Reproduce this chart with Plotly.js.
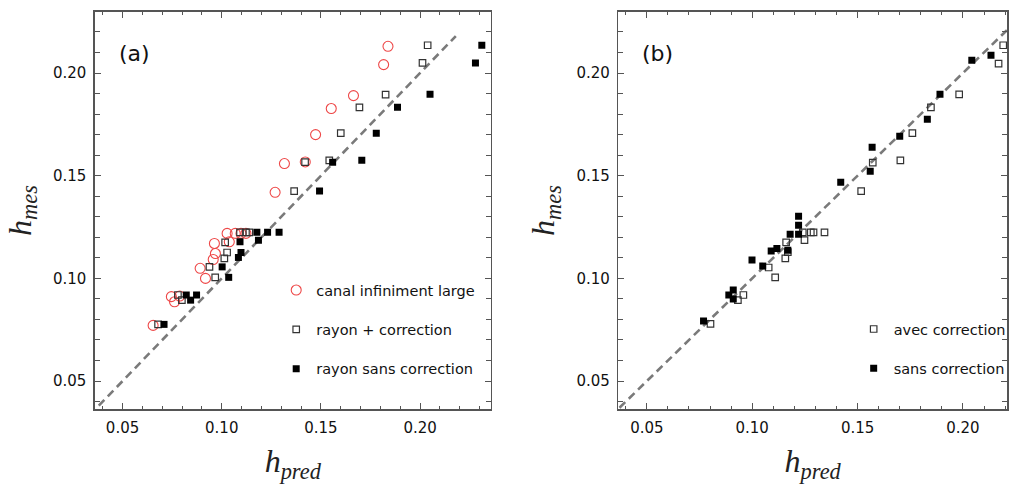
<!DOCTYPE html>
<html>
<head>
<meta charset="utf-8">
<script src="https://cdn.plot.ly/plotly-3.0.1.min.js"></script>
<style>html,body{margin:0;padding:0;background:#fff;}#chart{width:1012px;height:492px;}</style>
</head>
<body>
<div id="chart"></div>
<script>
// ---- data ----
const labelCanal = "canal infiniment large";
const labelRayonCorr = "rayon + correction";
const labelRayonSans = "rayon sans correction";
const labelAvec = "avec correction";
const labelSans = "sans correction";

// panel (a)
const xCanal = [0.1838, 0.1816, 0.1664, 0.1552, 0.1473, 0.1421, 0.1316, 0.1269, 0.0654, 0.0746, 0.0762, 0.0788, 0.0891, 0.0918, 0.0957, 0.0968, 0.0963, 0.1027, 0.1038, 0.1068, 0.1097, 0.1122];
const yCanal = [0.2130, 0.2041, 0.1890, 0.1827, 0.1700, 0.1567, 0.1559, 0.1419, 0.0771, 0.0911, 0.0886, 0.0914, 0.1049, 0.1000, 0.1092, 0.1121, 0.1170, 0.1219, 0.1178, 0.1219, 0.1219, 0.1219];

const xRayonCorr = [0.2038, 0.2012, 0.1826, 0.1694, 0.1600, 0.1542, 0.1420, 0.1365, 0.0679, 0.0779, 0.0799, 0.0938, 0.0967, 0.1013, 0.1027, 0.1017, 0.1092, 0.1122, 0.1139];
const yRayonCorr = [0.2135, 0.2049, 0.1895, 0.1833, 0.1707, 0.1575, 0.1566, 0.1425, 0.0776, 0.0919, 0.0894, 0.1056, 0.1005, 0.1097, 0.1126, 0.1175, 0.1224, 0.1224, 0.1224];

const xRayonSans = [0.2311, 0.2279, 0.2050, 0.1886, 0.1779, 0.1706, 0.1559, 0.1493, 0.0709, 0.0821, 0.0843, 0.0873, 0.1002, 0.1035, 0.1084, 0.1097, 0.1092, 0.1185, 0.1177, 0.1231, 0.1289];
const yRayonSans = [0.2135, 0.2049, 0.1896, 0.1833, 0.1707, 0.1575, 0.1566, 0.1425, 0.0776, 0.0919, 0.0894, 0.0919, 0.1056, 0.1005, 0.1102, 0.1126, 0.1178, 0.1186, 0.1224, 0.1224, 0.1224];

// panel (b)
const xAvec = [0.2191, 0.2169, 0.1982, 0.1848, 0.1760, 0.1703, 0.1572, 0.1517, 0.1240, 0.1278, 0.1291, 0.1343, 0.1248, 0.1161, 0.1169, 0.1157, 0.1078, 0.1109, 0.0958, 0.0932, 0.0802];
const yAvec = [0.2135, 0.2046, 0.1896, 0.1833, 0.1707, 0.1575, 0.1564, 0.1425, 0.1224, 0.1224, 0.1224, 0.1224, 0.1186, 0.1175, 0.1128, 0.1097, 0.1053, 0.1005, 0.0919, 0.0894, 0.0778];

const xSans = [0.2042, 0.2133, 0.1891, 0.1831, 0.1700, 0.1569, 0.1560, 0.1420, 0.1220, 0.1220, 0.1180, 0.1220, 0.1169, 0.1117, 0.1090, 0.0999, 0.1050, 0.0910, 0.0889, 0.0910, 0.0769];
const ySans = [0.2062, 0.2086, 0.1896, 0.1775, 0.1692, 0.1639, 0.1522, 0.1468, 0.1303, 0.1259, 0.1215, 0.1215, 0.1137, 0.1146, 0.1133, 0.1089, 0.1060, 0.0943, 0.0919, 0.0900, 0.0792];

// identity (y = x) reference lines
const identA = [0.038, 0.218];
const identB = [0.037, 0.222];

const tickVals = [0.05, 0.10, 0.15, 0.20];
const tickText = ["0.05", "0.10", "0.15", "0.20"];

// ---- styling ----
const RED = "rgb(238,72,72)";
const FRAME = "#555555";
const dashLine = {color: "#7a7a7a", width: 2.6, dash: "8px,5px"};

const traces = [
  {x: identA, y: identA, mode: "lines", line: dashLine, showlegend: false, hoverinfo: "skip", xaxis: "x", yaxis: "y"},
  {x: xCanal, y: yCanal, mode: "markers", name: labelCanal, legendgroup: "a1", legend: "legend",
   marker: {symbol: "circle-open", size: 10, color: RED, line: {width: 1.1, color: RED}}, xaxis: "x", yaxis: "y"},
  {x: xRayonCorr, y: yRayonCorr, mode: "markers", name: labelRayonCorr, legendgroup: "a2", legend: "legend",
   marker: {symbol: "square-open", size: 6.5, color: "#333", line: {width: 1.2, color: "#333"}}, xaxis: "x", yaxis: "y"},
  {x: xRayonSans, y: yRayonSans, mode: "markers", name: labelRayonSans, legendgroup: "a3", legend: "legend",
   marker: {symbol: "square", size: 7, color: "#000", line: {width: 0}}, xaxis: "x", yaxis: "y"},

  {x: identB, y: identB, mode: "lines", line: dashLine, showlegend: false, hoverinfo: "skip", xaxis: "x2", yaxis: "y2"},
  {x: xAvec, y: yAvec, mode: "markers", name: labelAvec, legendgroup: "b1", legend: "legend2",
   marker: {symbol: "square-open", size: 6.5, color: "#333", line: {width: 1.2, color: "#333"}}, xaxis: "x2", yaxis: "y2"},
  {x: xSans, y: ySans, mode: "markers", name: labelSans, legendgroup: "b2", legend: "legend2",
   marker: {symbol: "square", size: 7, color: "#000", line: {width: 0}}, xaxis: "x2", yaxis: "y2"}
];

function xAxis(domain, range) {
  return {
    domain: domain, range: range, showgrid: false, zeroline: false,
    showline: true, linecolor: FRAME, linewidth: 1.6, mirror: "ticks",
    ticks: "inside", ticklen: 6, tickwidth: 1, tickcolor: FRAME,
    tickvals: tickVals, ticktext: tickText,
    minor: {dtick: 0.01, tick0: 0, ticks: "inside", ticklen: 3, tickcolor: FRAME, tickwidth: 1, showgrid: false},
    tickfont: {family: "DejaVu Sans", size: 15, color: "#111"},
    ticklabelstandoff: 4,
    title: {text: "<i>h</i><sub><i>pred</i></sub>", font: {family: "Liberation Serif", size: 32, color: "#222"}, standoff: 14},
    fixedrange: true
  };
}
function yAxis(anchor) {
  return {
    domain: [0, 1], range: [0.0364, 0.2297], anchor: anchor, showgrid: false, zeroline: false,
    showline: true, linecolor: FRAME, linewidth: 1.6, mirror: "ticks",
    ticks: "inside", ticklen: 6, tickwidth: 1, tickcolor: FRAME,
    tickvals: tickVals, ticktext: tickText,
    minor: {dtick: 0.01, tick0: 0, ticks: "inside", ticklen: 5, tickcolor: FRAME, tickwidth: 1, showgrid: false},
    tickfont: {family: "DejaVu Sans", size: 15, color: "#111"},
    ticklabelstandoff: 4,
    title: {text: "<i>h</i><sub><i>mes</i></sub>", font: {family: "Liberation Serif", size: 32, color: "#222"}, standoff: 12},
    fixedrange: true
  };
}

const W = 916, H = 397.3;
const legendFont = {family: "DejaVu Sans", size: 14.5, color: "#111"};
const layout = {
  width: 1012, height: 492,
  margin: {l: 95, r: 1, t: 11.7, b: 83, pad: 0},
  paper_bgcolor: "#ffffff", plot_bgcolor: "#ffffff",
  showlegend: true,
  xaxis: Object.assign(xAxis([0, 0.4337], [0.0361, 0.2355]), {anchor: "y"}),
  yaxis: yAxis("x"),
  xaxis2: Object.assign(xAxis([0.5739, 1], [0.0365, 0.2209]), {anchor: "y2"}),
  yaxis2: yAxis("x2"),
  legend: {
    x: (277 - 95) / W, y: (409 - 274) / H, xanchor: "left", yanchor: "top",
    bgcolor: "rgba(0,0,0,0)", borderwidth: 0, font: legendFont,
    traceorder: "grouped", tracegroupgap: 17.5, itemclick: false, itemdoubleclick: false
  },
  legend2: {
    x: (857 - 95) / W, y: (409 - 313) / H, xanchor: "left", yanchor: "top",
    bgcolor: "rgba(0,0,0,0)", borderwidth: 0, font: legendFont,
    traceorder: "grouped", tracegroupgap: 17.5, itemclick: false, itemdoubleclick: false
  },
  annotations: [
    {text: "(a)", xref: "x domain", yref: "y domain", x: (135 - 95) / 397.3, y: (409 - 53) / H,
     xanchor: "center", yanchor: "middle", showarrow: false, font: {family: "DejaVu Sans", size: 22, color: "#111"}},
    {text: "(b)", xref: "x2 domain", yref: "y2 domain", x: (660 - 620.7) / 390.3, y: (409 - 53) / H,
     xanchor: "center", yanchor: "middle", showarrow: false, font: {family: "DejaVu Sans", size: 22, color: "#111"}}
  ]
};

Plotly.newPlot("chart", traces, layout, {displayModeBar: false, staticPlot: true});
</script>
</body>
</html>
